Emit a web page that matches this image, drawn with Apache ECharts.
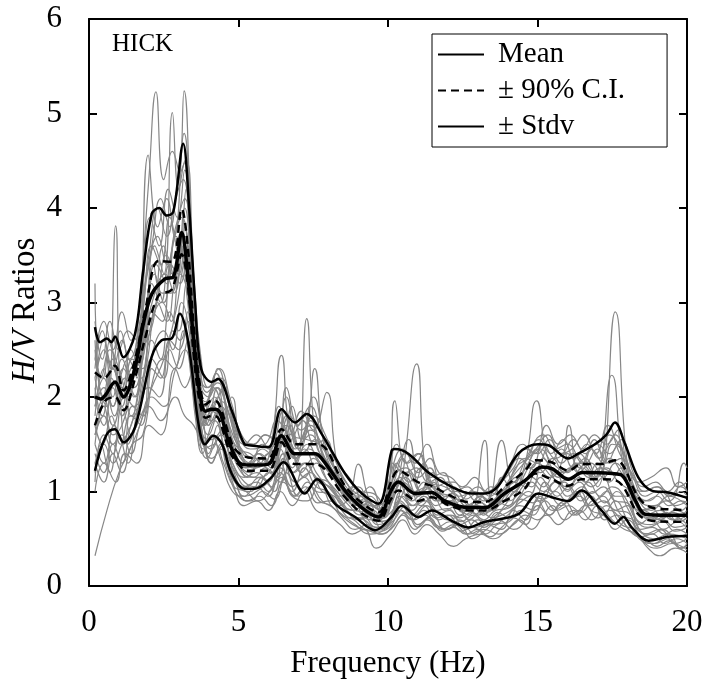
<!DOCTYPE html>
<html>
<head>
<meta charset="utf-8">
<script src="https://cdn.jsdelivr.net/npm/echarts@6/dist/echarts.min.js"></script>
<style>
  html, body { margin: 0; padding: 0; background: #fff; }
  #chart { width: 703px; height: 690px; }
</style>
</head>
<body>
<div id="chart"></div>
<script>
// Station and axis ticks
const stationName = 'HICK';
const xTicks = [0, 5, 10, 15, 20];
const yTicks = [0, 1, 2, 3, 4, 5, 6];

// Summary statistics of the H/V spectral ratios: [frequency (Hz), ratio]
const meanCurve = [[0.2,2.0],[0.4,1.98],[0.55,2.02],[0.87,2.16],[1.15,2.0],[1.54,2.31],[1.8,2.75],[2.1,3.09],[2.54,3.25],[2.82,3.27],[3.1,3.74],[3.3,3.3],[3.5,2.6],[3.7,2.05],[3.9,1.85],[4.1,1.87],[4.32,1.86],[4.66,1.54],[5.1,1.29],[5.5,1.28],[6.0,1.29],[6.44,1.59],[6.89,1.40],[7.56,1.40],[7.78,1.35],[8.56,1.01],[9.12,0.83],[9.68,0.73],[10.1,1.01],[10.34,1.10],[10.9,0.98],[11.46,0.99],[11.9,0.9],[12.68,0.83],[13.24,0.83],[13.9,0.98],[14.6,1.12],[15.14,1.26],[15.5,1.24],[16.03,1.13],[16.5,1.2],[17.5,1.19],[17.83,1.17],[18.28,0.9],[18.6,0.76],[19.3,0.75],[20,0.75]];
const ciUpper = [[0.2,2.26],[0.5,2.2],[0.87,2.33],[1.15,2.07],[1.54,2.4],[1.9,2.95],[2.32,3.44],[2.77,3.43],[3.1,3.99],[3.3,3.6],[3.5,2.75],[3.7,2.15],[3.9,1.92],[4.1,1.96],[4.32,1.94],[4.66,1.62],[4.88,1.45],[5.33,1.36],[6.0,1.35],[6.44,1.66],[6.89,1.50],[7.67,1.50],[8.56,1.06],[9.12,0.88],[9.68,0.78],[10.1,1.1],[10.34,1.22],[11.0,1.10],[11.46,1.06],[12.0,0.97],[12.68,0.89],[13.24,0.89],[13.9,1.05],[14.58,1.22],[14.92,1.33],[15.47,1.31],[16.03,1.22],[16.47,1.29],[17.14,1.29],[17.59,1.33],[17.85,1.28],[18.37,0.94],[18.82,0.83],[19.5,0.81],[20,0.8]];
const ciLower = [[0.2,1.70],[0.54,1.96],[0.87,2.0],[1.15,1.86],[1.54,2.2],[1.9,2.65],[2.32,3.07],[2.77,3.14],[3.1,3.51],[3.3,3.2],[3.5,2.45],[3.7,1.95],[3.9,1.78],[4.1,1.80],[4.32,1.78],[4.66,1.46],[4.88,1.33],[5.33,1.22],[6.0,1.22],[6.44,1.52],[6.89,1.29],[7.56,1.29],[8.56,0.94],[9.12,0.77],[9.68,0.69],[10.1,0.92],[10.34,1.01],[11.0,0.9],[11.46,0.94],[12.0,0.86],[12.68,0.8],[13.24,0.8],[13.9,0.9],[14.58,1.03],[14.92,1.19],[15.47,1.13],[16.03,1.06],[16.47,1.13],[17.14,1.13],[17.59,1.12],[17.87,1.05],[18.37,0.76],[18.82,0.69],[19.5,0.68],[20,0.68]];
const stdvUpper = [[0.2,2.74],[0.37,2.58],[0.6,2.62],[0.75,2.58],[0.87,2.64],[1.15,2.42],[1.54,2.67],[1.8,3.3],[2.1,3.94],[2.35,4.0],[2.6,3.92],[2.82,3.96],[3.15,4.68],[3.35,4.0],[3.55,3.0],[3.75,2.3],[4.1,2.16],[4.32,2.19],[4.77,1.86],[5.2,1.5],[5.33,1.49],[6.0,1.47],[6.44,1.87],[6.89,1.73],[7.28,1.82],[7.78,1.61],[8.56,1.19],[9.12,0.98],[9.68,0.87],[10.12,1.43],[10.23,1.45],[10.68,1.40],[11.35,1.20],[12.13,1.05],[12.8,0.98],[13.24,0.98],[13.69,1.06],[14.36,1.40],[15.03,1.50],[15.36,1.49],[16.03,1.35],[16.36,1.40],[16.92,1.50],[17.3,1.6],[17.59,1.73],[17.93,1.50],[18.37,1.15],[18.82,1.01],[19.37,0.99],[19.93,0.94],[20,0.93]];
const stdvLower = [[0.2,1.22],[0.31,1.36],[0.45,1.5],[0.65,1.63],[0.87,1.66],[1.15,1.52],[1.54,1.68],[2.09,2.42],[2.43,2.6],[2.77,2.62],[3.04,2.88],[3.25,2.7],[3.43,2.32],[3.66,1.72],[3.88,1.5],[4.16,1.59],[4.45,1.5],[4.77,1.19],[5.2,1.03],[5.55,1.03],[6.1,1.15],[6.5,1.31],[7.22,0.98],[7.62,1.13],[8.23,0.87],[8.9,0.73],[9.57,0.59],[10.12,0.73],[10.46,0.85],[11.01,0.73],[11.46,0.80],[12.13,0.69],[12.68,0.62],[13.24,0.68],[14.36,0.76],[15.03,0.98],[15.47,0.94],[16.03,0.9],[16.47,1.01],[17.14,0.8],[17.59,0.66],[17.87,0.73],[18.15,0.62],[18.71,0.48],[19.37,0.52],[20,0.53]];

// Individual recordings: [frequency (Hz), ratio]
const record01 = [[0.2,1.5],[0.5,1.9],[0.8,1.6],[1.1,1.7],[1.4,2.1],[1.7,3.0],[2.0,4.3],[2.24,5.23],[2.5,4.3],[2.79,4.6],[3.0,4.4],[3.18,5.24],[3.4,3.9],[3.6,2.5],[3.85,1.9],[4.3,2.2],[4.7,1.7],[5.1,1.45],[5.6,1.35],[6.1,1.45],[6.5,1.85],[6.9,1.45],[7.4,1.7],[7.9,1.35],[8.4,1.1],[8.9,0.9],[9.4,0.85],[9.9,0.8],[10.3,1.3],[10.7,1.1],[11.1,1.25],[11.6,1.0],[12.1,0.95],[12.6,0.8],[13.1,0.95],[13.6,0.85],[14.1,1.0],[14.6,1.25],[15.1,1.45],[15.5,1.3],[16.0,1.2],[16.4,1.4],[16.9,1.2],[17.3,1.45],[17.6,1.6],[18.0,1.2],[18.4,0.9],[18.9,0.85],[19.4,0.95],[20,0.85]];
const record02 = [[0.2,2.4],[0.45,2.2],[0.7,2.6],[1.0,2.2],[1.3,2.4],[1.6,2.2],[1.98,4.56],[2.3,3.8],[2.6,4.1],[2.85,3.7],[3.18,4.79],[3.4,3.8],[3.6,2.4],[3.85,1.8],[4.2,2.0],[4.5,1.8],[4.77,2.0],[5.1,1.4],[5.5,1.25],[6.0,1.35],[6.44,2.44],[6.8,1.6],[7.28,1.55],[7.7,1.5],[8.1,1.3],[8.6,1.0],[9.0,0.85],[9.5,0.75],[10.0,0.95],[10.5,1.1],[11.0,0.95],[11.5,1.1],[12.0,0.85],[12.5,0.9],[13.0,0.75],[13.5,0.9],[14.0,1.05],[14.5,1.2],[14.97,1.96],[15.4,1.3],[15.9,1.2],[16.4,1.3],[16.9,1.15],[17.48,2.23],[17.9,1.2],[18.3,0.95],[18.8,0.8],[19.3,0.9],[19.8,0.8],[20,0.85]];
const record03 = [[0.2,1.3],[0.5,1.5],[0.8,1.3],[1.1,1.5],[1.5,1.8],[1.9,2.8],[2.2,3.6],[2.5,3.3],[2.79,5.01],[3.0,4.2],[3.2,4.5],[3.45,3.5],[3.7,2.2],[4.0,1.7],[4.4,1.9],[4.8,1.5],[5.2,1.2],[5.7,1.15],[6.2,1.3],[6.6,1.6],[6.95,1.3],[7.28,2.83],[7.6,1.5],[8.0,1.3],[8.5,1.0],[9.0,0.8],[9.5,0.7],[10.0,0.75],[10.4,1.0],[10.96,2.35],[11.3,1.1],[11.7,0.95],[12.2,0.85],[12.7,0.75],[13.24,1.54],[13.5,0.9],[14.0,0.9],[14.5,1.05],[15.0,1.3],[15.5,1.15],[16.0,1.05],[16.5,1.25],[17.0,1.05],[17.6,2.9],[18.0,1.3],[18.4,0.8],[18.9,0.7],[19.4,0.75],[20,0.65]];
const record04 = [[0.2,2.6],[0.4,2.2],[0.7,2.5],[1.0,2.3],[1.3,2.0],[1.6,2.5],[2.0,3.5],[2.3,4.0],[2.6,3.7],[2.9,4.1],[3.15,4.3],[3.4,3.3],[3.6,2.2],[3.9,1.9],[4.25,2.25],[4.6,1.9],[5.0,1.6],[5.4,1.45],[5.9,1.5],[6.3,1.75],[6.7,1.6],[7.1,1.85],[7.5,1.65],[7.95,2.05],[8.3,1.3],[8.7,1.05],[9.1,0.95],[9.6,0.85],[10.0,1.0],[10.23,1.96],[10.6,1.3],[11.0,1.4],[11.4,1.1],[11.9,1.05],[12.4,0.95],[12.9,1.0],[13.3,0.9],[13.8,1.54],[14.2,1.1],[14.7,1.4],[15.2,1.6],[15.6,1.45],[16.0,1.5],[16.5,1.3],[16.9,1.55],[17.3,1.3],[17.7,1.5],[18.1,1.1],[18.5,1.0],[19.0,1.05],[19.5,0.95],[19.9,1.3],[20,1.25]];
const record05 = [[0.2,2.0],[0.5,1.7],[0.8,2.1],[1.1,1.8],[1.4,2.2],[1.8,2.6],[2.1,3.2],[2.4,3.0],[2.7,3.4],[3.0,3.3],[3.2,3.8],[3.45,2.8],[3.7,2.0],[4.0,1.8],[4.3,2.0],[4.6,1.6],[5.0,1.3],[5.4,1.2],[5.8,1.35],[6.2,1.25],[6.5,1.7],[6.9,1.35],[7.3,1.5],[7.7,1.3],[8.1,1.2],[8.5,1.0],[8.9,0.85],[9.3,0.9],[9.7,0.7],[10.1,0.95],[10.4,1.15],[10.8,0.95],[11.2,1.1],[11.6,0.9],[12.0,0.95],[12.5,0.8],[13.0,0.85],[13.4,0.8],[13.9,0.95],[14.3,1.15],[14.8,1.05],[15.2,1.35],[15.7,1.15],[16.1,1.25],[16.6,1.1],[17.0,1.3],[17.4,1.1],[17.8,1.25],[18.2,0.85],[18.6,0.75],[19.1,0.8],[19.6,0.7],[20,0.75]];
const record06 = [[0.2,1.2],[0.5,1.6],[0.8,1.4],[1.1,1.9],[1.4,1.6],[1.8,2.2],[2.1,2.6],[2.4,2.4],[2.7,2.9],[3.0,2.7],[3.25,3.2],[3.5,2.4],[3.75,1.7],[4.0,1.4],[4.3,1.7],[4.6,1.3],[5.0,1.05],[5.4,1.0],[5.8,1.15],[6.2,1.0],[6.5,1.35],[6.9,1.1],[7.4,1.2],[7.8,1.0],[8.2,0.95],[8.6,0.8],[9.0,0.7],[9.4,0.75],[9.8,0.6],[10.2,0.75],[10.5,0.95],[10.9,0.75],[11.3,0.85],[11.7,0.7],[12.1,0.75],[12.6,0.6],[13.0,0.7],[13.5,0.65],[14.0,0.75],[14.4,0.85],[14.9,0.8],[15.3,1.0],[15.8,0.85],[16.3,1.0],[16.7,0.85],[17.2,0.95],[17.6,0.8],[18.0,0.85],[18.4,0.6],[18.9,0.5],[19.4,0.55],[20,0.5]];
const record07 = [[0.2,0.32],[0.6,0.8],[1.0,1.2],[1.3,1.4],[1.7,1.7],[2.1,2.1],[2.5,2.4],[2.9,2.9],[3.2,3.4],[3.5,2.5],[3.8,1.6],[4.1,1.45],[4.4,1.6],[4.8,1.3],[5.2,1.1],[5.6,1.05],[6.0,1.2],[6.4,1.1],[6.8,1.4],[7.2,1.15],[7.6,1.3],[8.0,1.1],[8.4,0.9],[8.8,0.75],[9.2,0.7],[9.6,0.62],[10.0,0.7],[10.4,0.9],[10.8,0.8],[11.2,0.95],[11.6,0.8],[12.0,0.7],[12.5,0.75],[12.9,0.62],[13.4,0.7],[13.8,0.8],[14.3,0.9],[14.7,1.0],[15.1,0.9],[15.6,1.1],[16.0,0.95],[16.5,1.05],[16.9,0.9],[17.3,1.0],[17.8,0.75],[18.2,0.7],[18.6,0.55],[19.1,0.6],[19.6,0.45],[20,0.5]];
const record08 = [[0.2,3.2],[0.35,2.1],[0.6,1.9],[0.89,3.81],[1.05,2.0],[1.3,1.5],[1.6,1.7],[2.0,1.9],[2.4,1.75],[2.88,2.0],[3.2,1.8],[3.5,1.7],[3.8,1.5],[4.1,1.35],[4.5,1.5],[4.9,1.1],[5.3,0.9],[5.7,0.95],[6.1,0.85],[6.5,1.1],[6.9,0.95],[7.3,1.1],[7.7,0.9],[8.1,0.85],[8.5,0.7],[8.9,0.6],[9.3,0.65],[9.7,0.55],[10.1,0.6],[10.5,0.75],[10.9,0.6],[11.3,0.7],[11.8,0.6],[12.2,0.65],[12.7,0.55],[13.2,0.6],[13.7,0.55],[14.2,0.65],[14.6,0.75],[15.0,0.7],[15.5,0.85],[15.9,0.7],[16.4,0.8],[16.8,0.7],[17.3,0.85],[17.8,0.65],[18.2,0.6],[18.6,0.45],[19.0,0.4],[19.5,0.45],[20,0.38]];
const record09 = [[0.2,1.0],[0.5,1.3],[0.9,1.1],[1.2,1.4],[1.6,1.3],[2.0,1.7],[2.4,1.6],[2.88,2.3],[3.2,2.1],[3.5,2.3],[3.8,1.8],[4.1,1.3],[4.4,1.45],[4.8,1.2],[5.2,0.95],[5.6,1.05],[6.0,0.95],[6.4,1.2],[6.8,1.0],[7.2,1.25],[7.6,1.05],[8.0,1.0],[8.4,0.85],[8.8,0.95],[9.2,0.7],[9.6,0.6],[10.0,0.65],[10.4,0.8],[10.8,0.7],[11.2,0.8],[11.6,0.65],[12.0,0.6],[12.4,0.7],[12.9,0.55],[13.3,0.65],[13.8,0.6],[14.2,0.8],[14.6,0.7],[15.0,0.9],[15.4,0.75],[15.9,0.9],[16.3,0.75],[16.8,0.95],[17.2,0.75],[17.6,0.9],[18.0,0.7],[18.4,0.5],[18.9,0.45],[19.4,0.5],[19.8,0.4],[20,0.45]];
const record10 = [[0.2,1.8],[0.5,2.3],[0.8,1.9],[1.1,2.1],[1.4,1.8],[1.8,2.4],[2.2,3.3],[2.5,3.0],[2.8,3.6],[3.1,3.9],[3.35,3.4],[3.6,2.3],[3.9,1.7],[4.2,1.9],[4.5,2.1],[4.9,1.6],[5.3,1.3],[5.7,1.4],[6.1,1.3],[6.5,1.55],[6.8,1.9],[7.1,1.55],[7.5,2.0],[7.9,1.5],[8.3,1.2],[8.7,1.0],[9.0,1.29],[9.4,0.9],[9.8,0.8],[10.2,1.1],[10.5,1.35],[10.9,1.1],[11.2,1.3],[11.6,1.05],[12.0,1.1],[12.4,0.9],[12.8,1.0],[13.2,0.9],[13.6,1.05],[14.0,1.2],[14.4,1.35],[14.8,1.25],[15.2,1.5],[15.6,1.35],[16.0,1.4],[16.4,1.25],[16.8,1.45],[17.2,1.3],[17.5,1.5],[17.9,1.4],[18.3,1.0],[18.7,0.9],[19.2,1.0],[19.6,0.85],[20,0.9]];
const record11 = [[0.2,1.4],[0.5,1.2],[0.8,1.5],[1.1,1.3],[1.4,1.7],[1.8,2.0],[2.1,2.4],[2.5,2.2],[2.8,2.7],[3.05,2.6],[3.3,2.9],[3.55,2.0],[3.8,1.4],[4.1,1.6],[4.4,1.35],[4.8,1.0],[5.2,0.95],[5.6,1.0],[6.0,1.1],[6.4,1.25],[6.8,0.95],[7.3,0.9],[7.7,1.1],[8.1,0.85],[8.5,0.75],[8.9,0.65],[9.4,0.55],[9.8,0.58],[10.2,0.7],[10.6,0.85],[11.0,0.65],[11.5,0.75],[11.9,0.6],[12.4,0.65],[12.8,0.5],[13.3,0.6],[13.7,0.7],[14.2,0.6],[14.7,0.75],[15.1,0.95],[15.5,0.8],[16.0,0.9],[16.4,1.0],[16.8,0.8],[17.2,0.75],[17.6,0.6],[18.0,0.7],[18.5,0.5],[18.9,0.45],[19.4,0.55],[19.8,0.4],[20,0.42]];
const record12 = [[0.2,2.2],[0.5,2.5],[0.8,2.0],[1.1,2.4],[1.5,2.0],[1.9,2.7],[2.2,2.9],[2.6,3.5],[2.9,3.2],[3.2,4.0],[3.45,3.2],[3.7,2.2],[4.0,1.7],[4.3,2.1],[4.7,1.8],[5.0,1.45],[5.4,1.3],[5.8,1.5],[6.2,1.4],[6.6,2.0],[7.0,1.5],[7.4,1.75],[7.8,1.4],[8.2,1.2],[8.6,0.95],[9.0,1.05],[9.4,0.8],[9.8,0.75],[10.2,0.95],[10.7,1.55],[11.1,1.0],[11.5,1.2],[11.9,0.95],[12.3,1.0],[12.7,0.85],[13.1,0.95],[13.5,0.85],[13.8,1.15],[14.2,1.0],[14.6,1.2],[15.0,1.45],[15.4,1.3],[15.8,1.45],[16.2,1.25],[16.6,1.35],[17.0,1.15],[17.4,1.35],[17.8,1.2],[18.2,0.95],[18.6,0.8],[19.0,0.85],[19.5,0.7],[20,0.8]];
const record13 = [[0.2,1.6],[0.5,1.8],[0.8,1.5],[1.1,1.6],[1.4,1.4],[1.7,1.7],[2.1,2.0],[2.5,1.9],[2.9,2.3],[3.2,2.5],[3.5,2.0],[3.8,1.55],[4.1,1.3],[4.4,1.5],[4.8,1.1],[5.2,0.85],[5.6,0.9],[6.0,0.8],[6.4,1.0],[6.8,0.85],[7.2,1.0],[7.6,0.8],[8.0,0.75],[8.4,0.65],[8.8,0.55],[9.2,0.6],[9.6,0.4],[10.1,0.55],[10.5,0.7],[10.9,0.55],[11.3,0.65],[11.7,0.55],[12.2,0.42],[12.6,0.5],[13.1,0.55],[13.5,0.5],[14.0,0.6],[14.4,0.7],[14.8,0.6],[15.3,0.75],[15.7,0.65],[16.2,0.8],[16.6,0.7],[17.0,0.85],[17.5,0.7],[17.9,0.6],[18.3,0.55],[18.7,0.4],[19.1,0.32],[19.6,0.4],[20,0.35]];
const record14 = [[0.2,2.0],[0.5,2.6],[0.8,2.3],[1.1,2.6],[1.4,2.2],[1.8,2.9],[2.1,3.6],[2.4,3.4],[2.7,3.9],[3.0,3.5],[3.25,4.2],[3.5,3.0],[3.75,2.1],[4.0,2.0],[4.3,2.3],[4.7,1.9],[5.1,1.55],[5.5,1.5],[5.9,1.6],[6.3,1.5],[6.6,2.1],[7.0,1.7],[7.4,1.9],[7.8,1.6],[8.2,1.35],[8.6,1.1],[9.0,0.95],[9.4,1.05],[9.8,0.8],[10.1,1.2],[10.5,1.45],[10.9,1.3],[11.3,1.5],[11.7,1.2],[12.1,1.15],[12.5,1.05],[12.9,1.15],[13.3,1.0],[13.7,1.1],[14.1,1.3],[14.5,1.5],[14.9,1.4],[15.3,1.7],[15.7,1.5],[16.1,1.6],[16.5,1.45],[16.9,1.6],[17.3,1.5],[17.7,1.65],[18.0,1.3],[18.4,1.1],[18.8,1.15],[19.3,1.25],[19.7,1.05],[20,1.1]];
const record15 = [[0.2,1.7],[0.5,2.0],[0.8,1.7],[1.2,2.0],[1.5,1.9],[1.9,2.3],[2.3,3.0],[2.6,2.8],[2.9,3.3],[3.2,3.6],[3.45,2.6],[3.7,1.9],[4.0,1.6],[4.35,1.85],[4.7,1.5],[5.1,1.2],[5.5,1.15],[5.9,1.25],[6.3,1.15],[6.7,1.5],[7.1,1.2],[7.5,1.35],[7.9,1.15],[8.3,1.0],[8.7,0.85],[9.1,0.75],[9.5,0.8],[9.9,0.65],[10.3,0.85],[10.7,1.05],[11.1,0.85],[11.5,0.95],[11.9,0.8],[12.3,0.85],[12.7,0.7],[13.1,0.78],[13.5,0.72],[13.9,0.85],[14.3,1.0],[14.7,0.95],[15.1,1.15],[15.5,1.0],[15.9,1.1],[16.3,0.95],[16.7,1.1],[17.1,0.95],[17.5,1.05],[17.9,0.95],[18.3,0.7],[18.7,0.62],[19.2,0.68],[19.6,0.58],[20,0.62]];
const record16 = [[0.2,2.5],[0.5,2.0],[0.8,2.3],[1.1,2.0],[1.4,2.3],[1.8,2.4],[2.15,3.4],[2.45,3.1],[2.75,3.1],[3.05,3.5],[3.3,3.0],[3.55,2.2],[3.85,1.7],[4.15,1.9],[4.5,1.6],[4.9,1.4],[5.3,1.15],[5.7,1.3],[6.1,1.2],[6.45,1.55],[6.8,1.25],[7.2,1.45],[7.6,1.2],[8.0,1.05],[8.4,0.95],[8.8,1.05],[9.2,0.8],[9.6,0.7],[10.0,0.8],[10.35,1.1],[10.8,0.9],[11.2,1.0],[11.6,0.85],[12.0,0.9],[12.4,0.75],[12.8,0.85],[13.2,0.75],[13.6,0.9],[14.0,0.85],[14.4,1.05],[14.8,1.15],[15.2,1.05],[15.6,1.2],[16.0,1.0],[16.4,1.15],[16.8,1.05],[17.2,1.15],[17.6,0.95],[18.0,0.95],[18.4,0.65],[18.8,0.72],[19.2,0.6],[19.7,0.68],[20,0.6]];
const record17 = [[0.2,2.3],[0.45,2.7],[0.75,2.3],[1.05,2.7],[1.35,2.4],[1.7,2.8],[2.05,3.9],[2.35,3.6],[2.65,4.2],[2.95,3.9],[3.2,4.4],[3.45,3.4],[3.7,2.3],[3.95,2.1],[4.4,2.2],[4.8,1.75],[5.2,1.5],[5.6,1.6],[6.0,1.45],[6.35,1.9],[6.75,1.55],[7.15,1.75],[7.55,1.5],[7.9,1.55],[8.3,1.15],[8.7,0.95],[9.1,1.0],[9.5,0.85],[9.9,0.9],[10.3,1.5],[10.65,1.3],[11.05,1.4],[11.45,1.15],[11.85,1.2],[12.25,1.0],[12.65,1.05],[13.05,0.95],[13.45,1.05],[13.85,0.95],[14.25,1.25],[14.65,1.35],[15.05,1.55],[15.45,1.4],[15.85,1.55],[16.25,1.35],[16.65,1.5],[17.05,1.35],[17.4,1.6],[17.8,1.45],[18.2,1.15],[18.6,0.95],[19.0,1.0],[19.4,0.9],[19.8,1.0],[20,0.95]];
const record18 = [[0.2,1.5],[0.5,1.3],[0.85,1.7],[1.15,1.5],[1.45,1.9],[1.8,1.8],[2.15,2.5],[2.5,2.7],[2.8,2.5],[3.1,3.0],[3.35,2.7],[3.6,1.9],[3.85,1.5],[4.2,1.75],[4.55,1.45],[4.9,1.2],[5.3,1.05],[5.7,1.15],[6.1,1.05],[6.5,1.4],[6.85,1.2],[7.25,1.3],[7.65,1.1],[8.05,1.05],[8.45,0.85],[8.85,0.8],[9.25,0.78],[9.65,0.65],[10.05,0.72],[10.45,1.0],[10.85,0.85],[11.25,0.9],[11.65,0.75],[12.05,0.8],[12.45,0.68],[12.85,0.75],[13.25,0.65],[13.65,0.78],[14.05,0.72],[14.45,0.92],[14.85,0.88],[15.25,1.1],[15.65,0.95],[16.05,1.05],[16.45,0.9],[16.85,1.0],[17.25,0.88],[17.65,1.0],[18.05,0.8],[18.45,0.6],[18.85,0.62],[19.25,0.55],[19.65,0.6],[20,0.55]];
const record19 = [[0.2,1.9],[0.5,2.2],[0.8,1.9],[1.15,2.3],[1.5,2.1],[1.85,2.6],[2.2,3.1],[2.55,3.3],[2.85,3.1],[3.15,3.6],[3.4,3.0],[3.65,2.1],[3.9,1.75],[4.2,1.95],[4.55,1.75],[4.9,1.35],[5.3,1.25],[5.7,1.35],[6.1,1.25],[6.55,1.65],[6.95,1.35],[7.35,1.45],[7.75,1.3],[8.15,1.15],[8.55,0.95],[8.95,0.9],[9.35,0.8],[9.75,0.72],[10.15,0.9],[10.5,1.2],[10.9,1.0],[11.3,1.05],[11.7,0.9],[12.1,0.9],[12.5,0.78],[12.9,0.85],[13.3,0.78],[13.7,0.88],[14.1,0.95],[14.5,1.1],[14.9,1.2],[15.3,1.25],[15.7,1.1],[16.1,1.15],[16.5,1.2],[16.9,1.15],[17.3,1.25],[17.7,1.1],[18.1,1.0],[18.5,0.75],[18.9,0.72],[19.3,0.78],[19.7,0.68],[20,0.72]];
const record20 = [[0.2,2.1],[0.45,1.8],[0.75,2.2],[1.1,1.9],[1.45,2.4],[1.8,2.3],[2.1,2.9],[2.45,2.8],[2.75,3.4],[3.05,3.2],[3.3,3.6],[3.55,2.5],[3.8,1.85],[4.1,1.75],[4.45,1.95],[4.8,1.55],[5.2,1.3],[5.6,1.25],[6.0,1.4],[6.4,1.3],[6.75,1.7],[7.15,1.4],[7.55,1.55],[7.95,1.25],[8.35,1.1],[8.75,0.9],[9.15,0.95],[9.55,0.75],[9.95,0.8],[10.3,1.05],[10.7,1.2],[11.1,1.0],[11.5,1.05],[11.9,0.88],[12.3,0.92],[12.7,0.8],[13.1,0.88],[13.5,0.8],[13.9,1.0],[14.3,1.05],[14.7,1.25],[15.1,1.2],[15.5,1.35],[15.9,1.2],[16.3,1.3],[16.7,1.15],[17.1,1.25],[17.5,1.2],[17.9,1.15],[18.3,0.85],[18.7,0.78],[19.1,0.7],[19.5,0.78],[20,0.7]];
const record21 = [[0.2,1.1],[0.4,1.5],[0.7,1.2],[1.0,1.6],[1.3,1.3],[1.65,1.9],[2.0,2.1],[2.35,2.0],[2.7,2.5],[3.0,2.3],[3.3,2.6],[3.55,1.8],[3.85,1.45],[4.2,1.5],[4.5,1.3],[4.85,1.05],[5.25,1.0],[5.65,0.9],[6.05,1.0],[6.45,1.15],[6.85,0.95],[7.25,1.05],[7.65,0.88],[8.05,0.9],[8.45,0.75],[8.85,0.7],[9.25,0.6],[9.65,0.58],[10.05,0.62],[10.45,0.8],[10.85,0.7],[11.25,0.75],[11.65,0.62],[12.05,0.68],[12.45,0.58],[12.85,0.62],[13.25,0.55],[13.65,0.65],[14.05,0.68],[14.45,0.8],[14.85,0.75],[15.25,0.9],[15.65,0.8],[16.05,0.85],[16.45,0.78],[16.85,0.9],[17.25,0.7],[17.65,0.75],[18.05,0.6],[18.45,0.52],[18.85,0.55],[19.25,0.45],[19.65,0.5],[20,0.45]];
const record22 = [[0.2,1.9],[0.5,2.1],[0.85,1.8],[1.2,2.2],[1.55,2.0],[1.9,2.9],[2.25,3.4],[2.6,3.2],[2.9,3.7],[3.15,3.5],[3.4,3.0],[3.65,2.2],[3.9,1.95],[4.25,2.1],[4.6,1.7],[5.0,1.45],[5.4,1.4],[5.8,1.3],[6.2,1.5],[6.6,1.7],[7.0,1.5],[7.4,1.6],[7.8,1.35],[8.2,1.2],[8.6,1.05],[9.0,0.9],[9.4,0.95],[9.8,0.8],[10.15,1.3],[10.55,1.2],[10.95,1.25],[11.35,1.1],[11.75,1.15],[12.15,1.0],[12.55,1.0],[12.95,0.9],[13.35,1.0],[13.75,0.95],[14.15,1.15],[14.55,1.3],[14.95,1.45],[15.35,1.6],[15.75,1.4],[16.15,1.45],[16.55,1.6],[16.95,1.4],[17.35,1.7],[17.75,1.4],[18.15,1.2],[18.55,1.05],[18.95,1.1],[19.35,1.0],[19.75,1.1],[20,1.0]];
const record23 = [[0.2,2.8],[0.45,2.4],[0.7,2.8],[1.0,2.5],[1.3,2.7],[1.6,2.6],[1.95,3.3],[2.3,3.7],[2.6,3.4],[2.9,3.8],[3.2,4.1],[3.45,3.2],[3.7,2.4],[3.95,2.05],[4.3,2.15],[4.65,1.85],[5.0,1.5],[5.4,1.35],[5.8,1.45],[6.2,1.35],[6.6,1.8],[7.0,1.45],[7.4,1.65],[7.8,1.5],[8.2,1.25],[8.6,1.1],[9.0,0.92],[9.4,0.88],[9.8,0.78],[10.2,1.15],[10.6,1.25],[11.0,1.15],[11.4,1.25],[11.8,1.0],[12.2,1.05],[12.6,0.92],[13.0,0.98],[13.4,0.9],[13.8,1.0],[14.2,1.2],[14.6,1.35],[15.0,1.3],[15.4,1.5],[15.8,1.3],[16.2,1.4],[16.6,1.3],[17.0,1.45],[17.4,1.3],[17.8,1.35],[18.2,1.05],[18.6,0.9],[19.0,0.95],[19.4,0.85],[19.8,0.9],[20,0.88]];
const record24 = [[0.2,1.3],[0.5,1.1],[0.8,1.4],[1.1,1.2],[1.45,1.5],[1.8,1.6],[2.15,2.2],[2.5,2.4],[2.85,2.3],[3.15,2.7],[3.4,2.3],[3.65,1.65],[3.95,1.35],[4.3,1.55],[4.65,1.2],[5.0,0.95],[5.4,0.9],[5.8,1.0],[6.2,0.92],[6.6,1.2],[7.0,0.95],[7.4,1.05],[7.8,0.9],[8.2,0.82],[8.6,0.7],[9.0,0.62],[9.4,0.58],[9.8,0.55],[10.2,0.65],[10.6,0.78],[11.0,0.62],[11.4,0.72],[11.8,0.58],[12.2,0.62],[12.6,0.55],[13.0,0.6],[13.4,0.52],[13.8,0.62],[14.2,0.72],[14.6,0.65],[15.0,0.85],[15.4,0.75],[15.8,0.88],[16.2,0.75],[16.6,0.85],[17.0,0.72],[17.4,0.8],[17.8,0.7],[18.2,0.55],[18.6,0.5],[19.0,0.42],[19.4,0.48],[19.8,0.4],[20,0.42]];
const record25 = [[0.2,1.6],[0.5,2.0],[0.8,2.4],[1.1,2.0],[1.45,2.2],[1.8,2.5],[2.15,2.8],[2.5,3.6],[2.8,3.3],[3.1,3.5],[3.35,3.2],[3.6,2.3],[3.85,1.8],[4.15,2.1],[4.5,1.85],[4.85,1.45],[5.25,1.25],[5.65,1.4],[6.05,1.3],[6.45,1.5],[6.85,1.35],[7.25,1.6],[7.55,2.3],[7.85,1.5],[8.25,1.15],[8.65,0.95],[9.05,0.85],[9.45,0.9],[9.85,0.72],[10.25,1.0],[10.6,1.15],[11.0,0.95],[11.4,1.1],[11.8,0.9],[12.2,0.98],[12.6,0.85],[13.0,0.9],[13.4,0.82],[13.8,0.95],[14.2,1.1],[14.6,1.05],[15.0,1.25],[15.4,1.15],[15.8,1.3],[16.05,1.7],[16.4,1.2],[16.8,1.3],[17.2,1.15],[17.6,1.3],[18.0,1.1],[18.4,0.8],[18.8,0.82],[19.2,0.72],[19.6,0.8],[20,0.75]];
const record26 = [[0.2,2.2],[0.5,1.9],[0.8,2.3],[1.1,2.1],[1.4,2.5],[1.75,2.2],[2.1,2.8],[2.45,3.0],[2.75,2.8],[3.05,3.3],[3.3,3.1],[3.55,2.3],[3.8,1.7],[4.1,1.85],[4.45,1.65],[4.8,1.3],[5.2,1.15],[5.6,1.2],[6.0,1.1],[6.4,1.45],[6.8,1.2],[7.2,1.3],[7.6,1.15],[8.0,1.1],[8.4,0.92],[8.8,0.8],[9.2,0.85],[9.6,0.68],[10.0,0.7],[10.4,0.95],[10.8,0.85],[11.2,0.95],[11.6,0.8],[12.0,0.82],[12.4,0.72],[12.8,0.78],[13.2,0.7],[13.6,0.8],[14.0,0.82],[14.4,0.95],[14.8,1.1],[15.2,1.0],[15.6,1.1],[16.0,1.02],[16.4,1.1],[16.8,0.98],[17.2,1.05],[17.6,0.9],[18.0,0.88],[18.4,0.68],[18.8,0.65],[19.2,0.7],[19.6,0.62],[20,0.65]];
const record27 = [[0.2,2.4],[0.5,2.8],[0.8,2.5],[1.1,2.9],[1.4,2.6],[1.75,3.0],[2.1,3.6],[2.4,4.1],[2.7,3.8],[3.0,4.3],[3.25,4.5],[3.5,3.3],[3.75,2.4],[4.0,2.1],[4.35,2.3],[4.75,1.95],[5.1,1.6],[5.5,1.5],[5.9,1.6],[6.3,1.55],[6.7,1.8],[7.1,1.65],[7.5,1.8],[7.9,1.6],[8.3,1.3],[8.7,1.15],[9.1,1.0],[9.5,0.98],[9.9,0.85],[10.25,1.25],[10.6,1.4],[11.0,1.2],[11.4,1.35],[11.8,1.1],[12.2,1.1],[12.6,0.98],[13.0,1.05],[13.4,0.95],[13.8,1.1],[14.2,1.25],[14.6,1.45],[15.0,1.4],[15.4,1.55],[15.8,1.4],[16.2,1.55],[16.6,1.4],[17.0,1.5],[17.4,1.4],[17.8,1.55],[18.2,1.2],[18.6,1.0],[19.0,1.05],[19.4,0.95],[19.8,1.05],[20,1.0]];
const record28 = [[0.2,1.7],[0.45,1.5],[0.75,1.8],[1.05,1.5],[1.4,1.8],[1.75,1.7],[2.1,2.3],[2.4,2.2],[2.7,2.6],[3.0,2.5],[3.3,2.8],[3.55,2.1],[3.8,1.6],[4.1,1.55],[4.45,1.65],[4.8,1.25],[5.2,1.05],[5.6,1.1],[6.0,1.0],[6.4,1.3],[6.8,1.05],[7.2,1.15],[7.6,1.0],[8.0,0.98],[8.4,0.82],[8.8,0.72],[9.2,0.72],[9.6,0.62],[10.0,0.65],[10.4,0.88],[10.8,0.75],[11.2,0.85],[11.6,0.72],[12.0,0.75],[12.4,0.65],[12.8,0.7],[13.2,0.62],[13.6,0.72],[14.0,0.78],[14.4,0.88],[14.8,0.95],[15.2,0.92],[15.6,1.0],[16.0,0.9],[16.4,0.95],[16.8,0.85],[17.2,0.9],[17.6,0.8],[18.0,0.78],[18.4,0.58],[18.8,0.55],[19.2,0.6],[19.6,0.52],[20,0.55]];

const recordCurves = [record01, record02, record03, record04, record05, record06, record07,
  record08, record09, record10, record11, record12, record13, record14, record15, record16,
  record17, record18, record19, record20, record21, record22, record23, record24, record25,
  record26, record27, record28];

const FONT = 'Liberation Serif';

const chart = echarts.init(document.getElementById('chart'), null, { renderer: 'canvas' });

const recordSeries = recordCurves.map((d, i) => ({
  name: 'record ' + (i + 1),
  type: 'line',
  data: d,
  smooth: 0.5,
  symbol: 'none',
  silent: true,
  z: 1,
  lineStyle: { color: '#878787', width: 1.2 }
}));

function statSeries(name, data, width, dashed) {
  return {
    name: name,
    type: 'line',
    data: data,
    smooth: 0.35,
    symbol: 'none',
    silent: true,
    z: 3,
    lineStyle: { color: '#000', width: width, type: dashed ? [8, 5] : 'solid' }
  };
}

const xMin = xTicks[0], xMax = xTicks[xTicks.length - 1];
const yMin = yTicks[0], yMax = yTicks[yTicks.length - 1];

const frameAxisLine = { show: true, onZero: false, lineStyle: { color: '#000', width: 2 } };
const innerTick = { show: true, inside: true, length: 8, lineStyle: { color: '#000', width: 2 } };

chart.setOption({
  animation: false,
  backgroundColor: '#fff',
  grid: { left: 89, right: 16, top: 19, bottom: 104, containLabel: false, outerBoundsMode: 'none' },
  xAxis: [
    {
      type: 'value', position: 'bottom', min: xMin, max: xMax, interval: xTicks[1] - xTicks[0],
      axisLine: frameAxisLine, axisTick: innerTick, splitLine: { show: false },
      axisLabel: { color: '#000', fontFamily: FONT, fontSize: 31, margin: 21 },
      name: 'Frequency (Hz)', nameLocation: 'middle', nameGap: 62, nameMoveOverlap: false,
      nameTextStyle: { color: '#000', fontFamily: FONT, fontSize: 31 }
    },
    {
      type: 'value', position: 'top', min: xMin, max: xMax, interval: xTicks[1] - xTicks[0],
      axisLine: frameAxisLine, axisTick: innerTick, splitLine: { show: false },
      axisLabel: { show: false }
    }
  ],
  yAxis: [
    {
      type: 'value', position: 'left', min: yMin, max: yMax, interval: yTicks[1] - yTicks[0],
      axisLine: frameAxisLine, axisTick: innerTick, splitLine: { show: false },
      axisLabel: { color: '#000', fontFamily: FONT, fontSize: 31, margin: 27 },
      name: '{i|H/V} Ratios', nameLocation: 'middle', nameGap: 47, nameMoveOverlap: false,
      nameTextStyle: {
        color: '#000', fontFamily: FONT, fontSize: 33, padding: [0, 16, 0, 0],
        rich: { i: { fontStyle: 'italic', fontFamily: FONT, fontSize: 33, color: '#000' } }
      }
    },
    {
      type: 'value', position: 'right', min: yMin, max: yMax, interval: yTicks[1] - yTicks[0],
      axisLine: frameAxisLine, axisTick: innerTick, splitLine: { show: false },
      axisLabel: { show: false }
    }
  ],
  legend: {
    data: ['Mean', '± 90% C.I.', '± Stdv'],
    orient: 'vertical',
    left: 432, top: 34,
    padding: [6, 42, 6, 5],
    itemWidth: 46, itemHeight: 14, itemGap: 7,
    borderColor: '#000', borderWidth: 1,
    selectedMode: false,
    itemStyle: { opacity: 0 },
    textStyle: { color: '#000', fontFamily: FONT, fontSize: 29, lineHeight: 28, padding: [0, 0, 0, 9] }
  },
  graphic: [
    { type: 'text', left: 112, top: 32, style: { text: stationName, fontFamily: FONT, fontSize: 25, fill: '#000' } }
  ],
  series: [
    ...recordSeries,
    statSeries('± Stdv', stdvUpper, 2.5, false),
    statSeries('± Stdv', stdvLower, 2.5, false),
    statSeries('± 90% C.I.', ciUpper, 2.5, true),
    statSeries('± 90% C.I.', ciLower, 2.5, true),
    statSeries('Mean', meanCurve, 3.5, false)
  ]
});
</script>
</body>
</html>
